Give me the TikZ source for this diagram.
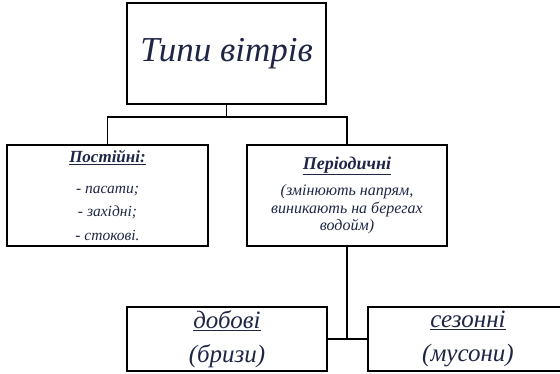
\documentclass[tikz,border=0pt]{standalone}
\usepackage{fontspec}
\setmainfont{Liberation Serif}
\usetikzlibrary{positioning}
\tikzset{box/.style = {draw, line width = 1.4pt, inner sep = 0, align = center, text = ink}}
\tikzset{link/.style = {line width = 1.8pt}}
\definecolor{ink}{rgb}{0.12, 0.15, 0.27}

\begin{document}
\begin{tikzpicture}[x=1pt, y=-1pt]
          \useasboundingbox (0, 0) rectangle (560, 373);
          \node [box, minimum width = 199, minimum height = 101,
                 font = \fontsize{35}{40}\selectfont\itshape] (tipy) at (226.5, 53.5) {Типи вітрів};
          \node [box, minimum width = 201, minimum height = 101,
                 font = \fontsize{15.5}{23.5}\selectfont\itshape] (post) at (107.5, 195.5)
            {{\fontsize{17}{20}\selectfont\bfseries\underline{Постійні:}}\\[7pt]
             - пасати;\\ - західні;\\ - стокові.};
          \node [box, minimum width = 200, minimum height = 101,
                 font = \fontsize{16}{17.5}\selectfont\itshape] (period) at (347, 195.5)
            {{\fontsize{18}{20}\selectfont\bfseries\underline{Періодичні}}\\[9pt]
             (змінюють напрям,\\ виникають на берегах\\ водойм)};
          \node [box, minimum width = 200, minimum height = 64,
                 font = \fontsize{25}{34}\selectfont\itshape] (dobovi) at (227, 339)
            {\underline{добові}\\ (бризи)};
          \node [box, minimum width = 200, minimum height = 64,
                 font = \fontsize{25}{34}\selectfont\itshape] (sezonni) at (468, 339)
            {\underline{сезонні}\\ (мусони)};

          \coordinate (hub) at (226.5, 117);
          \draw [link] (tipy.south) -- (hub);
          \draw [link] (post.north) |- (hub) -| (period.north);
          \draw [link] (period.south) -- (period.south |- dobovi.east);
          \draw [link] (dobovi.east) -- (sezonni.west);
        \end{tikzpicture}
\end{document}
